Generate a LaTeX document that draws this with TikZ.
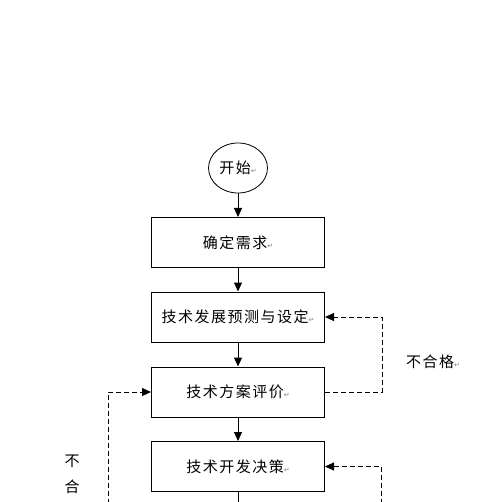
\documentclass[tikz,border=0pt]{standalone}
\usepackage{fontspec}
\usepackage{tikz}
\usetikzlibrary{arrows.meta, shapes.geometric}
\newfontfamily\cjk[LetterSpace=10]{Noto Sans CJK SC}
\newfontfamily\symfont{DejaVu Sans}
\newcommand{\retmark}{{\symfont\fontsize{7}{7}\selectfont\textcolor{gray}{↵}}}

\begin{document}
\begin{tikzpicture}[x=1pt, y=-1pt,
    box/.style={draw, line width=1pt, minimum width=173pt, minimum height=50pt, align=center, font=\cjk\fontsize{15}{18}\selectfont},
    startnode/.style={draw, ellipse, line width=0.8pt, minimum width=59pt, minimum height=50pt, inner sep=0pt, font=\cjk\fontsize{15}{18}\selectfont},
    note/.style={align=center, font=\cjk\fontsize{15}{26}\selectfont},
    arrow/.style={-{Triangle[length=9pt, width=8pt]}, line width=1pt},
    dasharrow/.style={-{Triangle[length=9pt, width=8pt]}, line width=1pt, dash pattern=on 5pt off 3pt}
]
\clip (0,0) rectangle (502,502);
\fill[white] (0,0) rectangle (502,502);

\node[startnode] (start) at (238,168) {开始\retmark};
\node[box] (need) at (238,242.5) {确定需求\retmark};
\node[box] (forecast) at (238,317) {技术发展预测与设定\retmark};
\node[box] (eval) at (238,392) {技术方案评价\retmark};
\node[box] (decide) at (238,466.5) {技术开发决策\retmark};

\coordinate (nextstep) at (238,520);
\coordinate (rbelow) at (381,520);
\coordinate (lbelow) at (108,520);

\draw[arrow] (start) -- (need);
\draw[arrow] (need) -- (forecast);
\draw[arrow] (forecast) -- (eval);
\draw[arrow] (eval) -- (decide);
\draw[arrow] (decide) -- (nextstep);

\draw[dasharrow] (eval.east) -- ++(57,0) |- (forecast.east);
\draw[dasharrow] (rbelow) |- (decide.east);
\draw[dasharrow] (lbelow) |- (eval.west);

\node[note] (failright) at (433,362) {不合格\retmark};
\node[note, anchor=north] (failleft) at (72,451) {不\\合};
\end{tikzpicture}
\end{document}
